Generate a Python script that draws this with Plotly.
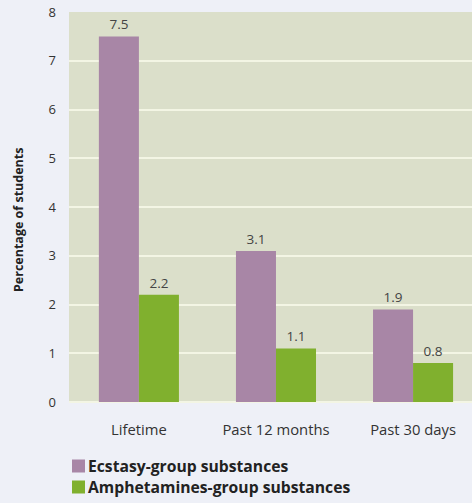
import plotly.graph_objects as go

categories = ["Lifetime", "Past 12 months", "Past 30 days"]
ecstasy = [7.5, 3.1, 1.9]
amphetamines = [2.2, 1.1, 0.8]
series_names = ["Ecstasy-group substances", "Amphetamines-group substances"]
y_ticks = [0, 1, 2, 3, 4, 5, 6, 7, 8]
y_title = "Percentage of students"

PURPLE = "#a886a6"
GREEN = "#80b02e"
FONT = "Open Sans, Noto Sans, sans-serif"
colors = [PURPLE, GREEN]

fig = go.Figure()
for name, vals, col in zip(series_names, [ecstasy, amphetamines], colors):
    fig.add_trace(go.Bar(
        x=categories, y=vals, name=name,
        marker=dict(color=col, line=dict(width=0)),
        text=[f"{v:.1f}" for v in vals], textposition="outside",
        textfont=dict(size=13.5, color="#444444", family=FONT),
        cliponaxis=False,
    ))

# Pixel-derived paper coords for legend and axis title
W, H = 472, 503
ML, MR, MT, MB = 69, 0, 12, 101
PW, PH = W - ML - MR, H - MT - MB

def px_x(px):
    return (px - ML) / PW

def px_y(py):
    return (H - MB - py) / PH

legend_rows = [466, 487]
for name, col, cy in zip(series_names, colors, legend_rows):
    fig.add_shape(type="rect", xref="paper", yref="paper",
                  x0=px_x(72), x1=px_x(85), y0=px_y(cy + 6.5), y1=px_y(cy - 6.5),
                  fillcolor=col, line=dict(width=0))
    fig.add_annotation(xref="paper", yref="paper", x=px_x(86), y=px_y(cy),
                       xanchor="left", yanchor="middle", showarrow=False,
                       text=name,
                       font=dict(size=15.7, color="#222222", family=FONT, weight="bold"))

fig.add_annotation(xref="paper", yref="paper", x=px_x(18), y=px_y(220),
                   xanchor="center", yanchor="middle", showarrow=False,
                   text=y_title, textangle=-90,
                   font=dict(size=12.5, color="#222222", family=FONT, weight="bold"))

fig.update_layout(
    width=W, height=H,
    margin=dict(l=ML, r=MR, t=MT, b=MB),
    paper_bgcolor="#eef0f7",
    plot_bgcolor="#dbdfca",
    barmode="group",
    bargap=0.416,
    bargroupgap=0,
    font=dict(family=FONT, size=13, color="#333333"),
    showlegend=False,
    xaxis=dict(
        range=[-0.51, 2.43],
        showgrid=False, zeroline=False, showline=False,
        ticks="", ticklabelstandoff=17,
        tickfont=dict(size=14.8, color="#333333", family=FONT),
    ),
    yaxis=dict(
        range=[0, 8],
        tickvals=y_ticks,
        showgrid=True, gridcolor="#f3f5e4", gridwidth=2,
        zeroline=True, zerolinecolor="#f3f5e4", zerolinewidth=2,
        showline=False,
        ticks="", ticklabelstandoff=12,
        tickfont=dict(size=13, color="#333333", family=FONT),
    ),
)

fig.write_html("out.html")
